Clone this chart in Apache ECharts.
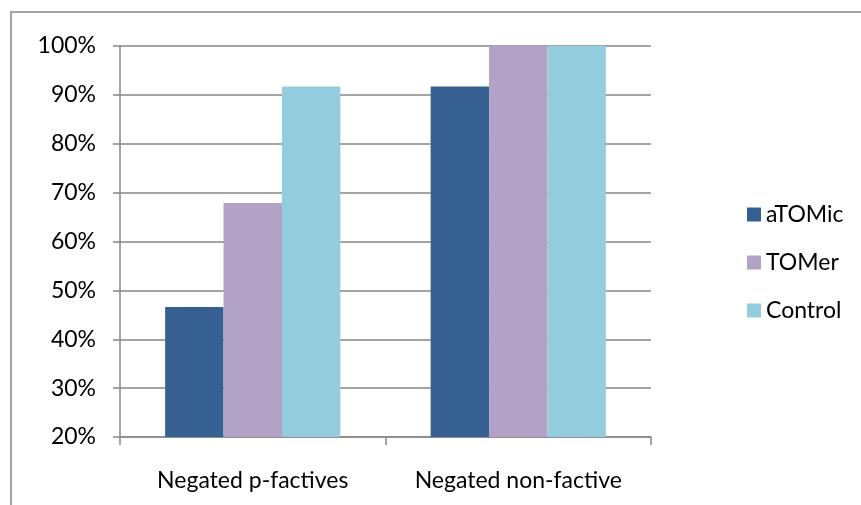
<!DOCTYPE html>
<html>
<head>
<meta charset="utf-8">
<script src="https://cdn.jsdelivr.net/npm/echarts@6/dist/echarts.min.js"></script>
<style>
  html, body { margin: 0; padding: 0; background: #fff; }
  #chart { width: 861px; height: 505px; }
</style>
</head>
<body>
<div id="chart"></div>
<script>
// Categories and per-group percentages
const categories = ['Negated p-factives', 'Negated non-factive'];
const atomicValues = [46.6, 91.7];
const tomerValues = [67.9, 100];
const controlValues = [91.7, 100];
const seriesNames = ['aTOMic', 'TOMer', 'Control'];
const seriesColors = ['#376092', '#b3a2c7', '#93cddd'];

const FONT = 'Lato, "Open Sans", sans-serif';
const AXIS_GRAY = '#868686';

const chart = echarts.init(document.getElementById('chart'), null, { renderer: 'canvas' });

const valueSets = [atomicValues, tomerValues, controlValues];

chart.setOption({
  animation: false,
  backgroundColor: '#ffffff',
  graphic: [{
    type: 'rect',
    shape: { x: 11, y: 12, width: 900, height: 600 },
    style: { fill: 'none', stroke: AXIS_GRAY, lineWidth: 1.5 },
    silent: true
  }],
  grid: { left: 120, right: 210, top: 46, bottom: 68, containLabel: false },
  legend: {
    orient: 'vertical',
    left: 742,
    top: 198,
    itemWidth: 14,
    itemHeight: 14,
    itemGap: 25,
    icon: 'rect',
    textStyle: { fontFamily: FONT, fontSize: 23, color: '#000' },
    data: seriesNames
  },
  xAxis: {
    type: 'category',
    data: categories,
    axisLine: { lineStyle: { color: AXIS_GRAY, width: 1.5 } },
    axisTick: { show: true, length: 8, lineStyle: { color: AXIS_GRAY, width: 1.5 } },
    axisLabel: { interval: 0, fontFamily: FONT, fontSize: 23, color: '#000', margin: 32 }
  },
  yAxis: {
    type: 'value',
    min: 20,
    max: 100,
    interval: 10,
    axisLine: { show: true, lineStyle: { color: AXIS_GRAY, width: 1.5 } },
    axisTick: { show: true, length: 7, lineStyle: { color: AXIS_GRAY, width: 1.5 } },
    axisLabel: { fontFamily: FONT, fontSize: 23, color: '#000', margin: 24, formatter: '{value}%' },
    splitLine: { lineStyle: { color: AXIS_GRAY, width: 1.5 } }
  },
  series: seriesNames.map((name, i) => ({
    name: name,
    type: 'bar',
    data: valueSets[i],
    barGap: '0%',
    barCategoryGap: '34%',
    itemStyle: { color: seriesColors[i] }
  }))
});
</script>
</body>
</html>
